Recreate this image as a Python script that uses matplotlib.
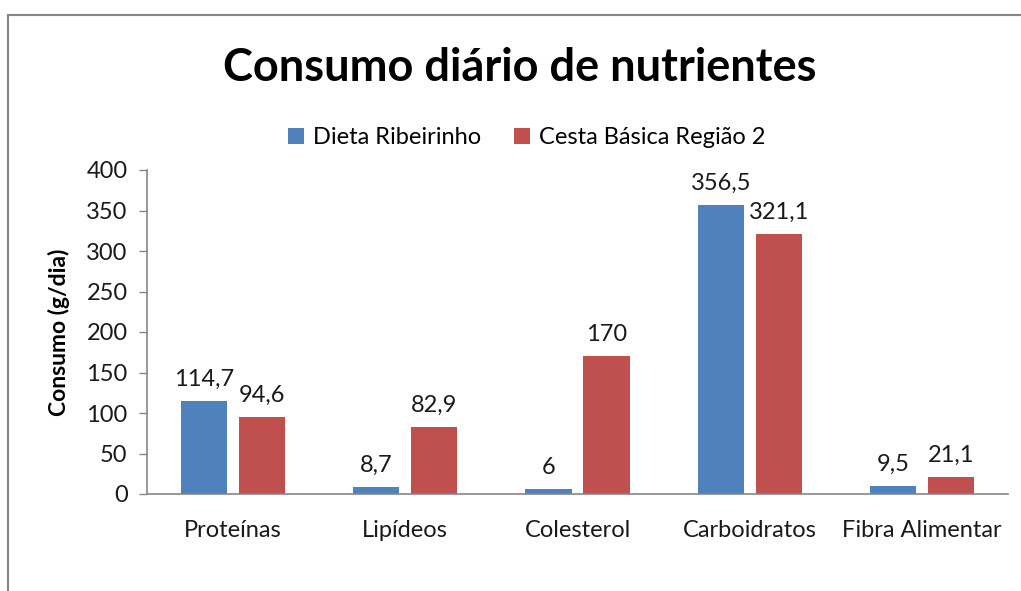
import matplotlib
matplotlib.use("Agg")
import matplotlib.pyplot as plt
import numpy as np
from matplotlib.patches import Rectangle

categories = ["Proteínas", "Lipídeos", "Colesterol", "Carboidratos", "Fibra Alimentar"]
dieta = [114.7, 8.7, 6, 356.5, 9.5]
cesta = [94.6, 82.9, 170, 321.1, 21.1]
labels_dieta = ["114,7", "8,7", "6", "356,5", "9,5"]
labels_cesta = ["94,6", "82,9", "170", "321,1", "21,1"]
series_names = ["Dieta Ribeirinho", "Cesta Básica Região 2"]
yticks = [0, 50, 100, 150, 200, 250, 300, 350, 400]

plt.rcParams['font.family'] = ['Lato', 'DejaVu Sans']

fig = plt.figure(figsize=(10.21, 5.91), dpi=100)
fig.patch.set_facecolor('white')

# outer frame
fig.add_artist(Rectangle((8/1021, -0.05), 1.1, (1-15/591)+0.05, transform=fig.transFigure,
                         fill=False, edgecolor='#868686', linewidth=1.5))

ax = fig.add_axes([147/1021, 1-494/591, (1008-147)/1021, (494-170)/591])
x = np.arange(len(categories))
w = 0.268
off = 0.168
blue = '#4F81BD'
red = '#C0504D'
b1 = ax.bar(x - off, dieta, w, color=blue, label=series_names[0])
b2 = ax.bar(x + off, cesta, w, color=red, label=series_names[1])

fs = 17
for rect, lab in zip(b1, labels_dieta):
    ax.annotate(lab, (rect.get_x() + rect.get_width()/2, rect.get_height()),
                xytext=(0, 8), textcoords='offset points', ha='center', va='bottom', fontsize=fs, color='#1a1a1a')
for rect, lab in zip(b2, labels_cesta):
    ax.annotate(lab, (rect.get_x() + rect.get_width()/2, rect.get_height()),
                xytext=(0, 8), textcoords='offset points', ha='center', va='bottom', fontsize=fs, color='#1a1a1a')

ax.set_xlim(-0.5, len(categories) - 0.5)
ax.set_ylim(0, 400)
ax.set_yticks(yticks)
ax.set_yticklabels([str(t) for t in yticks], fontsize=fs, color='#1a1a1a')
ax.set_xticks(x)
ax.set_xticklabels(categories, fontsize=fs, color='#1a1a1a')
ax.tick_params(axis='x', length=0, pad=19)
ax.tick_params(axis='y', length=6, width=1, color='#868686', pad=8)
for s in ['top', 'right']:
    ax.spines[s].set_visible(False)
for s in ['left', 'bottom']:
    ax.spines[s].set_color('#868686')
    ax.spines[s].set_linewidth(1.2)

ax.set_ylabel("Consumo (g/dia)", fontsize=16.5, fontweight='bold', labelpad=12)

fig.text(520/1021, 1-68/591, "Consumo diário de nutrientes", fontsize=32.5, fontweight='bold',
         ha='center', va='center')

leg = fig.legend(handles=[b1, b2], labels=series_names, loc='center', bbox_to_anchor=(527/1021, 1-138/591),
                 ncol=2, frameon=False, fontsize=fs, handlelength=0.65, handleheight=0.65,
                 handletextpad=0.4, columnspacing=1.4)

fig.savefig("out.png", dpi=100, facecolor='white')
